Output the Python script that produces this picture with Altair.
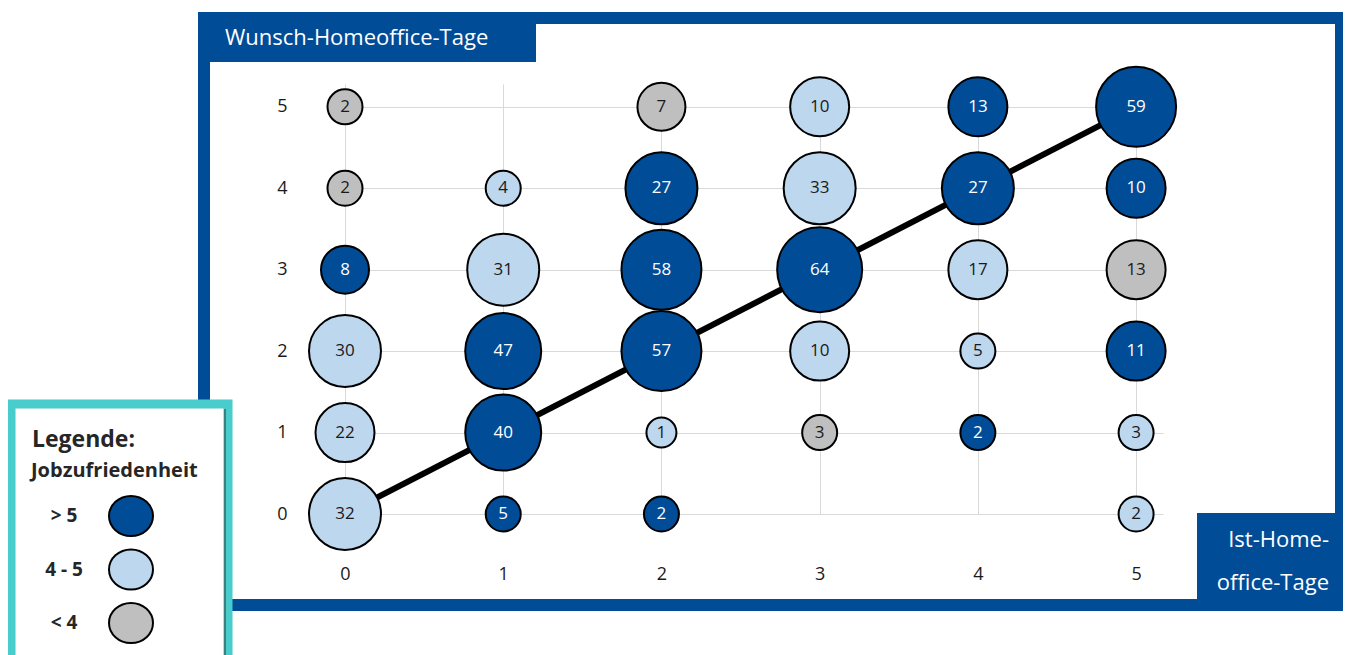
import altair as alt
import pandas as pd

# ---------------- data ----------------
ist = [0, 2, 3, 4, 5,
       0, 1, 2, 3, 4, 5,
       0, 1, 2, 3, 4, 5,
       0, 1, 2, 3, 4, 5,
       0, 1, 2, 3, 4, 5,
       0, 1, 2, 5]
wunsch = [5, 5, 5, 5, 5,
          4, 4, 4, 4, 4, 4,
          3, 3, 3, 3, 3, 3,
          2, 2, 2, 2, 2, 2,
          1, 1, 1, 1, 1, 1,
          0, 0, 0, 0]
anzahl = [2, 7, 10, 13, 59,
          2, 4, 27, 33, 27, 10,
          8, 31, 58, 64, 17, 13,
          30, 47, 57, 10, 5, 11,
          22, 40, 1, 3, 2, 3,
          32, 5, 2, 2]
zufriedenheit = ["< 4", "< 4", "4 - 5", "> 5", "> 5",
                 "< 4", "4 - 5", "> 5", "4 - 5", "> 5", "> 5",
                 "> 5", "4 - 5", "> 5", "> 5", "4 - 5", "< 4",
                 "4 - 5", "> 5", "> 5", "4 - 5", "4 - 5", "> 5",
                 "4 - 5", "> 5", "4 - 5", "< 4", "> 5", "4 - 5",
                 "4 - 5", "> 5", "> 5", "4 - 5"]
kategorien = ["> 5", "4 - 5", "< 4"]
ticks = [0, 1, 2, 3, 4, 5]
diag_ist = [0, 5]
diag_wunsch = [0, 5]

# ---------------- style ----------------
BLUE = "#004C97"
LIGHT = "#BDD7EE"
GRAY = "#BFBFBF"
TEAL = "#48CCCC"
FONT = "Open Sans"
ELLIPSE = "M -1 0 A 1 0.913 0 1 0 1 0 A 1 0.913 0 1 0 -1 0 Z"

df = pd.DataFrame({"ist": ist, "wunsch": wunsch, "anzahl": anzahl,
                   "zufriedenheit": zufriedenheit})
diag = pd.DataFrame({"ist": diag_ist, "wunsch": diag_wunsch})
leg = pd.DataFrame({"zufriedenheit": kategorien})
one = pd.DataFrame({"k": [0]})

color_scale = alt.Scale(domain=kategorien, range=[BLUE, LIGHT, GRAY])
xscale = alt.Scale(domain=[0, 5.17], nice=False, zero=False)
yscale = alt.Scale(domain=[0, 5.28], nice=False, zero=False)
axis_common = dict(values=ticks, grid=True, domain=False, ticks=False, tickSize=0,
                   labelFont=FONT, labelFontSize=18, labelColor="#1a1a1a",
                   labelFlush=False, labelOverlap=False,
                   gridColor="#D9D9D9", gridWidth=1, title=None)
X = alt.X("ist:Q", scale=xscale, axis=alt.Axis(orient="bottom", labelPadding=51, **axis_common))
Y = alt.Y("wunsch:Q", scale=yscale, axis=alt.Axis(orient="left", labelPadding=58, **axis_common))

# decorations (frame, title boxes, legend box)
frame = alt.Chart(one).mark_rect(fill="transparent", stroke=BLUE, strokeWidth=12).encode(
    x=alt.value(-141), x2=alt.value(996), y=alt.value(-66), y2=alt.value(521))
box_y = alt.Chart(one).mark_rect(fill=BLUE).encode(
    x=alt.value(-147), x2=alt.value(191), y=alt.value(-72), y2=alt.value(-22))
box_x = alt.Chart(one).mark_rect(fill=BLUE).encode(
    x=alt.value(852), x2=alt.value(1002), y=alt.value(429), y2=alt.value(527))
title_y = alt.Chart(one).mark_text(font=FONT, fontSize=22, color="white", align="left",
                                   baseline="alphabetic").encode(
    x=alt.value(-120), y=alt.value(-39), text=alt.value("Wunsch-Homeoffice-Tage"))
title_x = alt.Chart(one).mark_text(font=FONT, fontSize=22, color="white", align="right",
                                   baseline="alphabetic", lineHeight=43).encode(
    x=alt.value(984), y=alt.value(463), text=alt.value(["Ist-Home-", "office-Tage"]))
legend_box = alt.Chart(one).mark_rect(fill="white", stroke=TEAL, strokeWidth=9).encode(
    x=alt.value(-334), x2=alt.value(-117), y=alt.value(320), y2=alt.value(620))
legend_edge = alt.Chart(one).mark_rule(color="#333333", strokeWidth=1).encode(
    x=alt.value(-120), y=alt.value(325), y2=alt.value(620))
legend_t1 = alt.Chart(one).mark_text(font=FONT, fontSize=23, fontWeight="bold", color="#262626",
                                     align="left", baseline="alphabetic").encode(
    x=alt.value(-313), y=alt.value(363), text=alt.value("Legende:"))
legend_t2 = alt.Chart(one).mark_text(font=FONT, fontSize=20, fontWeight="bold", color="#262626",
                                     align="left", baseline="alphabetic").encode(
    x=alt.value(-314), y=alt.value(393), text=alt.value("Jobzufriedenheit"))

# legend entries (symbols right, labels left)
LY = alt.Y("zufriedenheit:N", axis=None,
           scale=alt.Scale(type="point", domain=kategorien, range=[432, 539], padding=0))
legend_sym = alt.Chart(leg).mark_point(shape=ELLIPSE, filled=True, size=1936, stroke="black",
                                       strokeWidth=2, opacity=1).encode(
    x=alt.value(-214), y=LY,
    color=alt.Color("zufriedenheit:N", scale=color_scale, legend=None))
legend_lab = alt.Chart(leg).mark_text(font=FONT, fontSize=19, fontWeight="bold", color="#262626",
                                      align="center", baseline="middle").encode(
    x=alt.value(-281), y=LY, text="zufriedenheit:N")
legend = alt.layer(legend_sym, legend_lab)

# main plot
line = alt.Chart(diag).mark_line(color="black", strokeWidth=6).encode(x=X, y=Y)
bubbles = alt.Chart(df).mark_circle(stroke="black", strokeWidth=2, opacity=1).encode(
    x=X, y=Y,
    size=alt.Size("anzahl:Q", legend=None,
                  scale=alt.Scale(type="threshold", domain=[1.5, 6, 9, 25, 37, 50, 62],
                                  range=[900, 1225, 2304, 3481, 5184, 5776, 6400, 7225])),
    color=alt.Color("zufriedenheit:N", scale=color_scale, legend=None))
labels = alt.Chart(df).mark_text(font=FONT, fontSize=17, align="center", baseline="middle").encode(
    x=X, y=Y, text="anzahl:Q",
    color=alt.condition(alt.datum.zufriedenheit == "> 5", alt.value("white"), alt.value("#1a1a1a")))
main = alt.layer(line, bubbles, labels)

chart = alt.layer(frame, box_y, box_x, title_y, title_x, legend_box, legend_edge,
                  legend_t1, legend_t2, main, legend).resolve_scale(y="independent").properties(
    width=818, height=430,
    autosize=alt.AutoSizeParams(type="none"),
    padding={"left": 337, "top": 76, "right": 180, "bottom": 141},
).configure_view(stroke=None)

chart.save("out.html", embed_options={"renderer": "svg", "actions": False})
